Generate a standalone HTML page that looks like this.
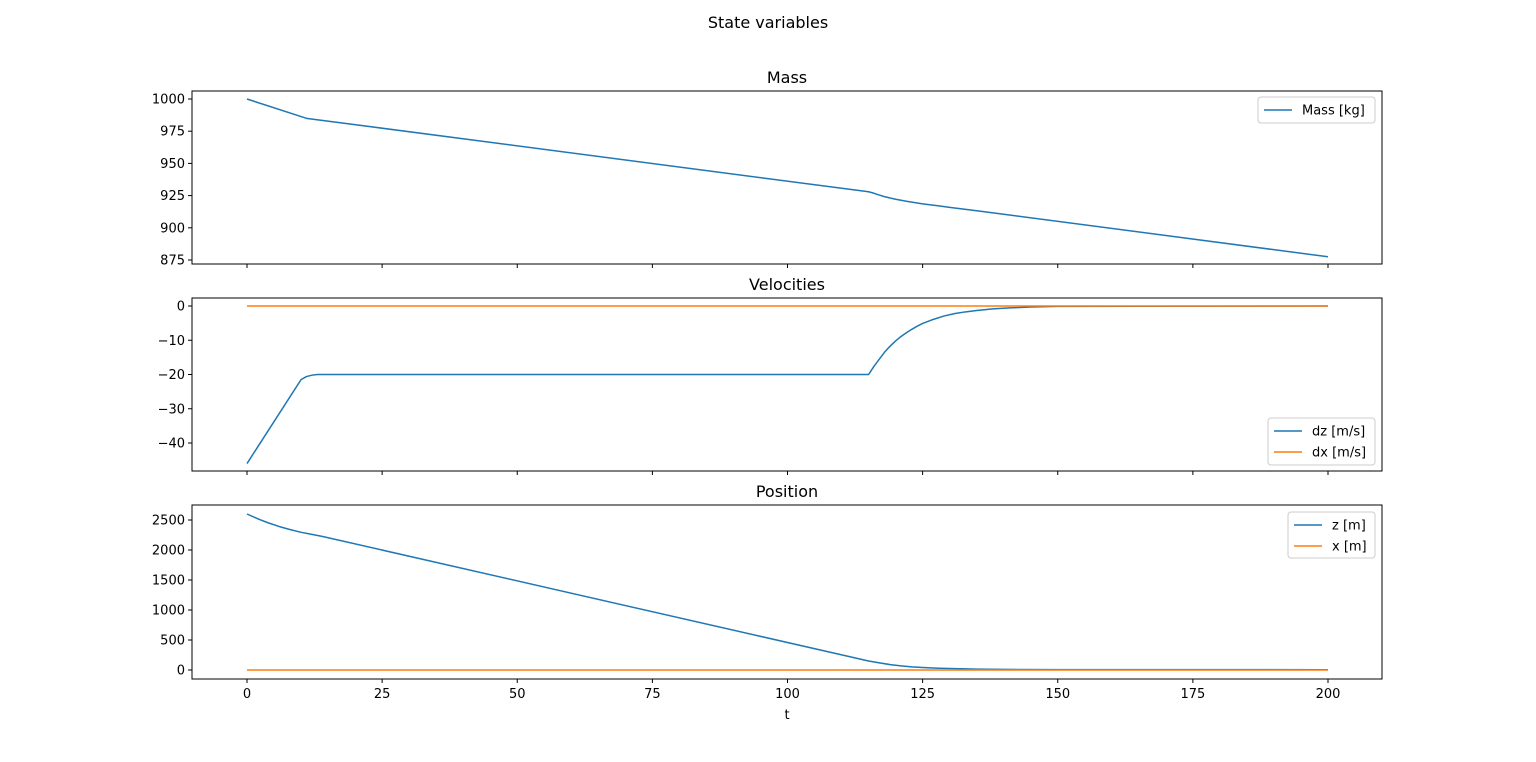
<!DOCTYPE html>
<html><head><meta charset="utf-8"><style>
body{margin:0;background:#fff;}
svg{display:block;font-family:"DejaVu Sans","Liberation Sans",sans-serif;}
</style></head><body>
<svg id="fig" width="1536" height="762" xmlns="http://www.w3.org/2000/svg">
<rect width="1536" height="762" fill="#fff"/>
<text x="768" y="28" text-anchor="middle" font-size="16">State variables</text>
</svg>
<script>
const xTicks=[0,25,50,75,100,125,150,175,200];
const massT=[0,11,115,116,117,118,120,122,125,128,130,135,140,200];
const massV=[1000,985,928,926.8,925.4,924.1,922.2,920.6,918.6,917,915.9,913.2,910.5,877.5];
const massTicks=[875,900,925,950,975,1000];
const dzT=[0,10,11,12,13,115,116,117,118,119,120,121,122,123,124,125,127,129,131,133,135,138,141,145,150,200];
const dzV=[-46,-21.5,-20.6,-20.2,-20,-20,-17.6,-15.5,-13.4,-11.7,-10.2,-8.9,-7.8,-6.8,-5.9,-5.1,-3.9,-2.9,-2.2,-1.7,-1.3,-0.85,-0.55,-0.3,-0.12,0];
const dxT=[0,200];
const dxV=[0,0];
const velTicks=[-40,-30,-20,-10,0];
const zT=[0,2,4,6,8,10,12,14,115,117,119,121,123,125,128,131,135,140,150,200];
const zV=[2600,2520,2450,2390,2340,2295,2260,2225,150,118,90,68,52,41,30,22,15,10,7,5];
const xPosT=[0,200];
const xPosV=[0,0];
const posTicks=[0,500,1000,1500,2000,2500];

const NS="http://www.w3.org/2000/svg";
const svg=document.getElementById('fig');
function el(tag,attrs,parent){const e=document.createElementNS(NS,tag);for(const k in attrs)e.setAttribute(k,attrs[k]);(parent||svg).appendChild(e);return e;}
const L=192,R=1382;
const sx=t=>247+(t-0)*(1328-247)/200;
const fmt=v=>v<0?'\u2212'+Math.abs(v):String(v);

function panel(name,title,top,bottom,yA,yB,pA,pB,ticks,series,legend,showX){
  const sy=v=>pA+(v-yA)*(pB-pA)/(yB-yA);
  const g=el('g',{});
  
  
  const t=el('text',{x:(L+R)/2,y:top-8,'text-anchor':'middle','font-size':16},g);
  t.textContent=title;
  
  
  for(const v of ticks){
    const y=sy(v);
    el('line',{x1:L-4,x2:L,y1:y,y2:y,stroke:'#000','stroke-width':1},g);
    const tx=el('text',{x:L-7,y:y+4.5,'text-anchor':'end','font-size':13},g);
    tx.textContent=fmt(v);
    
    
  }
  for(const v of xTicks){
    const x=sx(v);
    el('line',{x1:x,x2:x,y1:bottom,y2:bottom+4,stroke:'#000','stroke-width':1},g);
    if(showX){
      const tx=el('text',{x:x,y:bottom+19,'text-anchor':'middle','font-size':13},g);
      tx.textContent=v;
      
      
    }
  }
  const cp='clip-'+name;
  const c=el('clipPath',{id:cp},g);el('rect',{x:L,y:top,width:R-L,height:bottom-top},c);
  for(const s of series){
    const d=s.t.map((tt,i)=>(i?'L':'M')+sx(tt).toFixed(2)+','+sy(s.v[i]).toFixed(2)).join(' ');
    const p=el('path',{d:d,fill:'none',stroke:s.color,'stroke-width':1.5,'stroke-linejoin':'round','clip-path':'url(#'+cp+')'},g);
    
    
  }
  el('rect',{x:L,y:top,width:R-L,height:bottom-top,fill:'none',stroke:'#000','stroke-width':1},g);
  const lg=el('g',{},g);
  
  
  el('rect',{x:legend.x,y:legend.y,width:legend.w,height:legend.h,rx:3,fill:'#fff','fill-opacity':0.8,stroke:'#ccc'},lg);
  series.forEach((s,i)=>{
    const y=legend.y+13+i*21;
    el('line',{x1:legend.x+6,x2:legend.x+34,y1:y,y2:y,stroke:s.color,'stroke-width':1.5},lg);
    const tx=el('text',{x:legend.x+44,y:y+4.5,'font-size':13},lg);
    tx.textContent=s.label;
    
    
  });
}
const B='#1f77b4',O='#ff7f0e';
panel('mass','Mass',91,264,1000,875,99,260,massTicks,[{id:'mass',t:massT,v:massV,color:B,label:'Mass [kg]'}],{x:1258,y:97,w:117,h:26},false);
panel('velocities','Velocities',298,471,0,-40,306,443,velTicks,[{id:'dz',t:dzT,v:dzV,color:B,label:'dz [m/s]'},{id:'dx',t:dxT,v:dxV,color:O,label:'dx [m/s]'}],{x:1268,y:418,w:107,h:47},false);
panel('position','Position',505,679,2500,0,520,670,posTicks,[{id:'z',t:zT,v:zV,color:B,label:'z [m]'},{id:'x',t:xPosT,v:xPosV,color:O,label:'x [m]'}],{x:1288,y:512,w:87,h:46},true);
const xl=el('text',{x:787,y:719,'text-anchor':'middle','font-size':13});
xl.textContent='t';


</script>
</body></html>
